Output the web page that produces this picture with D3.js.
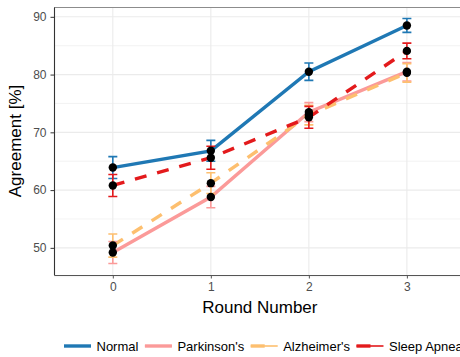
<!DOCTYPE html>
<html><head><meta charset="utf-8">
<script src="https://cdn.jsdelivr.net/npm/d3@7"></script>
<style>body{margin:0;background:#fff}svg{display:block;font-family:"Liberation Sans",Arial,sans-serif}</style>
</head><body><svg id="c" width="460" height="357"></svg>
<script>
const rounds = [0, 1, 2, 3];
const seriesNames = ["Normal", "Parkinson's", "Alzheimer's", "Sleep Apnea"];
const normalVals = [63.9, 66.8, 80.5, 88.5];
const normalErr = [1.9, 1.8, 1.5, 1.2];
const parkinsonsVals = [49.2, 58.8, 73.5, 80.5];
const parkinsonsErr = [1.9, 1.85, 1.65, 1.6];
const alzheimersVals = [50.4, 61.2, 73.0, 80.3];
const alzheimersErr = [2.0, 1.8, 1.7, 1.6];
const sleepVals = [60.8, 65.6, 72.6, 84.1];
const sleepErr = [1.9, 2.0, 1.9, 1.35];
const yTicks = [50, 60, 70, 80, 90];
const yMinor = [45, 55, 65, 75, 85];
const colors = ["#1f78b4", "#fb9a99", "#fdbf6f", "#e31a1c"];
const dashes = [null, null, "12,11", "12,11"];

const series = seriesNames.map((n, i) => ({
  name: n, color: colors[i], dash: dashes[i],
  vals: [normalVals, parkinsonsVals, alzheimersVals, sleepVals][i],
  err: [normalErr, parkinsonsErr, alzheimersErr, sleepErr][i]
}));

const svg = d3.select("#c");
const L = 54, T = 7, B = 275, R = 465.7;
const x = d3.scaleLinear().domain([-0.6, 3.6]).range([L, R]);
const y = d3.scaleLinear().domain([45.3, 91.7]).range([B, T]);

// grid
const g = svg.append("g");
g.selectAll(".ymin").data(yMinor).join("line")
  .attr("x1", L).attr("x2", 460).attr("y1", d => y(d)).attr("y2", d => y(d))
  .attr("stroke", "#ebebeb").attr("stroke-width", 0.6);
g.selectAll(".ymaj").data(yTicks).join("line")
  .attr("x1", L).attr("x2", 460).attr("y1", d => y(d)).attr("y2", d => y(d))
  .attr("stroke", "#ebebeb").attr("stroke-width", 1.1);
g.selectAll(".xmaj").data(rounds).join("line")
  .attr("x1", d => x(d)).attr("x2", d => x(d)).attr("y1", T).attr("y2", B)
  .attr("stroke", "#ebebeb").attr("stroke-width", 1.1);

// border top
svg.append("line").attr("x1", L).attr("x2", 460).attr("y1", T + 0.5).attr("y2", T + 0.5)
  .attr("stroke", "#8c8c8c").attr("stroke-width", 1);

// lines
const line = d3.line().x((d, i) => x(rounds[i])).y(d => y(d));
series.forEach(s => {
  svg.append("path").attr("d", line(s.vals)).attr("fill", "none")
    .attr("stroke", s.color).attr("stroke-width", 3.4)
    .attr("stroke-dasharray", s.dash);
});
// error bars
const cap = 4.5;
series.forEach(s => {
  const eg = svg.append("g").attr("stroke", s.color).attr("stroke-width", 1.6).attr("fill", "none");
  rounds.forEach((r, i) => {
    const lo = y(s.vals[i] - s.err[i]), hi = y(s.vals[i] + s.err[i]), cx = x(r);
    eg.append("path").attr("d", `M${cx - cap},${hi}H${cx + cap}M${cx},${hi}V${lo}M${cx - cap},${lo}H${cx + cap}`);
  });
});
// points
series.forEach(s => {
  svg.append("g").selectAll("circle").data(s.vals).join("circle")
    .attr("cx", (d, i) => x(rounds[i])).attr("cy", d => y(d)).attr("r", 4.2).attr("fill", "#000");
});

// axes
const ya = svg.append("g").attr("transform", `translate(${L},0)`)
  .call(d3.axisLeft(y).tickValues(yTicks).tickSizeInner(3.5).tickSizeOuter(0).tickPadding(4).tickFormat(d3.format("d")));
ya.select(".domain").attr("stroke", "#333").attr("stroke-width", 1.1);
ya.selectAll(".tick line").attr("stroke", "#333");
ya.selectAll("text").attr("fill", "#4d4d4d").style("font-size", "12px").style("font-family", "Liberation Sans, Arial, sans-serif");

const xa = svg.append("g").attr("transform", `translate(0,${B})`)
  .call(d3.axisBottom(x).tickValues(rounds).tickSizeInner(3.5).tickSizeOuter(0).tickPadding(4).tickFormat(d3.format("d")));
xa.select(".domain").attr("stroke", "#555").attr("stroke-width", 1.1);
xa.selectAll(".tick line").attr("stroke", "#555");
xa.selectAll("text").attr("fill", "#4d4d4d").style("font-size", "12px").style("font-family", "Liberation Sans, Arial, sans-serif");

// titles
svg.append("text").attr("x", (L + R) / 2).attr("y", 313).attr("text-anchor", "middle")
  .style("font-size", "17px").attr("fill", "#000").text("Round Number");
svg.append("text").attr("transform", `translate(21,${(T + B) / 2}) rotate(-90)`).attr("text-anchor", "middle")
  .style("font-size", "17px").attr("fill", "#000").text("Agreement [%]");

// legend
const leg = svg.append("g");
let lx = 64;
const ly = 346;
series.forEach(s => {
  leg.append("line").attr("x1", lx).attr("x2", lx + 27).attr("y1", ly).attr("y2", ly)
    .attr("stroke", s.color).attr("stroke-width", 1.6);
  leg.append("line").attr("x1", lx).attr("x2", lx + 27).attr("y1", ly).attr("y2", ly)
    .attr("stroke", s.color).attr("stroke-width", 3.4).attr("stroke-dasharray", s.dash ? "14,30" : null);
  const t = leg.append("text").attr("x", lx + 32.5).attr("y", ly + 4.6)
    .style("font-size", "13px").attr("fill", "#000").text(s.name);
  lx = lx + 32.5 + t.node().getComputedTextLength() + 6.5;
});
</script></body></html>
